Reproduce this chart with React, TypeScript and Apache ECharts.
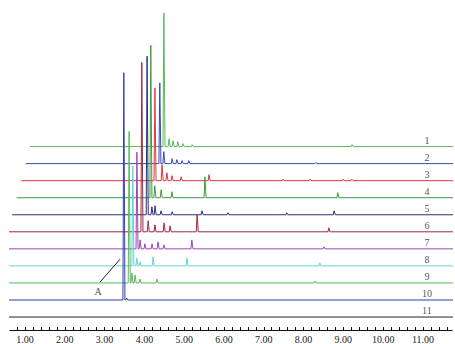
import React, { useEffect, useRef } from "react";
import * as echarts from "echarts";

// Trace labels (top to bottom)
const TRACE_LABELS = ["1", "2", "3", "4", "5", "6", "7", "8", "9", "10", "11"];

// Peaks per trace: [retention time (min), height (a.u.)]
const PEAKS_1 = [[3.36, 134], [3.49, 8], [3.59, 6], [3.71, 5], [3.84, 3], [4.07, 2], [8.09, 2]];
const PEAKS_2 = [[3.37, 81], [3.47, 12], [3.68, 5], [3.8, 4], [3.93, 3], [4.1, 3], [7.29, 1]];
const PEAKS_3 = [[3.36, 93], [3.54, 16], [3.66, 8], [3.79, 5], [4.02, 4], [4.72, 6], [6.58, 1.5], [7.26, 1.5], [8.09, 1.5], [8.31, 1.5]];
const PEAKS_4 = [[3.37, 153], [3.47, 12], [3.63, 8], [3.9, 6], [4.73, 21], [8.07, 5]];
const PEAKS_5 = [[3.39, 159], [3.51, 8], [3.59, 9], [3.74, 4], [4.02, 3], [4.77, 4], [5.42, 2], [6.9, 2], [8.09, 4]];
const PEAKS_6 = [[3.37, 170], [3.53, 11], [3.7, 7], [3.93, 9], [4.08, 6], [4.76, 17], [8.07, 4]];
const PEAKS_7 = [[3.36, 97], [3.44, 9], [3.56, 5], [3.74, 5], [3.89, 7], [4.04, 4], [4.74, 9], [8.06, 2]];
const PEAKS_8 = [[3.37, 100], [3.47, 8], [3.55, 4], [3.88, 9], [4.73, 8], [8.07, 3]];
const PEAKS_9 = [[3.39, 152], [3.46, 10], [3.54, 8], [3.66, 4], [4.09, 4], [8.06, 2]];
const PEAKS_10 = [[3.37, 228], [3.44, 2]];
const PEAKS_11: number[][] = [];

const ALL_PEAKS = [PEAKS_1, PEAKS_2, PEAKS_3, PEAKS_4, PEAKS_5, PEAKS_6, PEAKS_7, PEAKS_8, PEAKS_9, PEAKS_10, PEAKS_11];

// Axis tick labels (min)
const X_TICK_LABELS = [1, 2, 3, 4, 5, 6, 7, 8, 9, 10, 11];

// Run range (min)
const RUN_START = 0;
const RUN_END = 12.5;

// Annotation "A"
const ANNOT_LABEL = "A";

// ---- layout / style constants ----
const COLORS = ["#5cb85a", "#3348b8", "#e0383c", "#3f9a3f", "#26307e", "#9a2a3e", "#9c45b8", "#5fd3dc", "#5cb85a", "#2f3fae", "#222222"];
const STACK_BASE = 13;
const STACK_GAP = 17.1;
const X_SHIFT = 0.113;
const PEAK_HW = 0.022;

function buildTrace(peaks: number[][], idx: number) {
  const n = TRACE_LABELS.length;
  const base = STACK_BASE + (n - 1 - idx) * STACK_GAP;
  const sh = (n - 1 - idx) * X_SHIFT;
  const pts: number[][] = [[RUN_START + sh, base]];
  const sorted = [...peaks].sort((a, b) => a[0] - b[0]);
  for (const [t, h] of sorted) {
    pts.push([t - PEAK_HW + sh, base]);
    pts.push([t + sh, base + h]);
    pts.push([t + PEAK_HW * 1.3 + sh, base]);
  }
  pts.push([RUN_END + sh, base]);
  return pts;
}

export default function App() {
  const ref = useRef<HTMLDivElement>(null);
  useEffect(() => {
    if (!ref.current) return;
    const chart = echarts.init(ref.current, null, { renderer: "svg" });
    const n = TRACE_LABELS.length;
    const series: any[] = ALL_PEAKS.map((p, i) => ({
      type: "line",
      name: TRACE_LABELS[i],
      data: buildTrace(p, i),
      showSymbol: false,
      symbol: "none",
      lineStyle: { color: COLORS[i], width: 1 },
      z: 2 + i,
    }));
    series.push({
      type: "scatter",
      symbolSize: 0,
      data: TRACE_LABELS.map((l, i) => ({ value: [11.1, STACK_BASE + (n - 1 - i) * STACK_GAP + 6.5], name: l })),
      label: {
        show: true,
        position: "inside",
        formatter: (p: any) => p.name,
        fontFamily: "Liberation Serif",
        fontSize: 10,
        color: "#222",
      },
      silent: true,
    });
    series.push({
      type: "line",
      data: [[2.884, 48], [3.387, 71]],
      showSymbol: false,
      symbol: "none",
      lineStyle: { color: "#222", width: 1 },
      z: 20,
    });
    series.push({
      type: "scatter",
      symbolSize: 0,
      data: [{ value: [2.834, 39], name: ANNOT_LABEL }],
      label: {
        show: true,
        position: "inside",
        formatter: (p: any) => p.name,
        fontFamily: "Liberation Serif",
        fontSize: 10,
        color: "#222",
      },
    });
    const minorTicks: number[] = [];
    for (let v = 0.8; v < 11.7; v += 0.2) minorTicks.push(Math.round(v * 10) / 10);
    chart.setOption({
      animation: false,
      backgroundColor: "#ffffff",
      grid: { left: 10, right: 3, top: 10, bottom: 13 },
      xAxis: {
        type: "value",
        min: 0.623,
        max: 11.73,
        axisLine: { show: true, lineStyle: { color: "#111", width: 1.2 } },
        axisTick: { show: true, inside: true, customValues: minorTicks, length: 3, lineStyle: { color: "#111" } },
        axisLabel: {
          customValues: X_TICK_LABELS,
          formatter: (v: number) => v.toFixed(2),
          fontFamily: "Liberation Serif",
          fontSize: 10,
          color: "#222",
          margin: 4,
        },
        splitLine: { show: false },
      },
      yAxis: { type: "value", min: 0, max: 321, show: false },
      series,
    });
    return () => chart.dispose();
  }, []);
  return <div ref={ref} style={{ position: "absolute", left: 0, top: 0, width: 455, height: 344 }} />;
}
